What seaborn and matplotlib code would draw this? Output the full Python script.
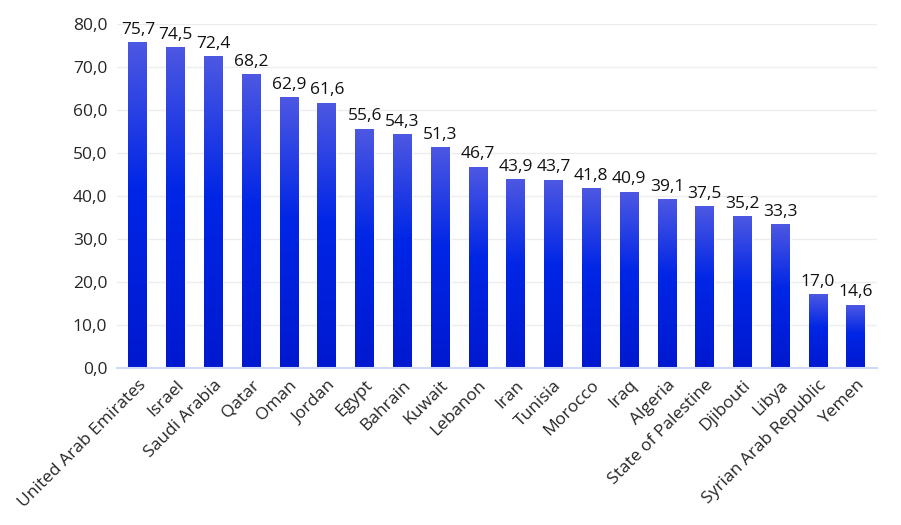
import matplotlib
matplotlib.use("Agg")
import matplotlib.pyplot as plt
import numpy as np
import pandas as pd
import seaborn as sns
from matplotlib.colors import LinearSegmentedColormap

#------Data------

countries = ["United Arab Emirates", "Israel", "Saudi Arabia", "Qatar", "Oman", "Jordan",
             "Egypt", "Bahrain", "Kuwait", "Lebanon", "Iran", "Tunisia", "Morocco", "Iraq",
             "Algeria", "State of Palestine", "Djibouti", "Libya", "Syrian Arab Republic", "Yemen"]
values = [75.7, 74.5, 72.4, 68.2, 62.9, 61.6, 55.6, 54.3, 51.3, 46.7,
          43.9, 43.7, 41.8, 40.9, 39.1, 37.5, 35.2, 33.3, 17.0, 14.6]

df = pd.DataFrame({"country": countries, "value": values})

#------Plot------

sns.set_style("white")
plt.rcParams["font.family"] = ["Open Sans", "DejaVu Sans"]

fig, ax = plt.subplots(figsize=(9.01, 5.25), dpi=100)
fig.subplots_adjust(left=0.13, right=0.973, top=0.955, bottom=0.30)

sns.barplot(data=df, x="country", y="value", color="#0026E6", width=0.5, ax=ax)

# per-bar vertical gradient, lighter at the top
grad_cmap = LinearSegmentedColormap.from_list(
    "bars", [(0.0, "#0019CF"), (0.55, "#0026E6"), (1.0, "#4D58E2")])
grad = np.linspace(0, 1, 256).reshape(-1, 1)
for patch in ax.patches:
    x0, y0 = patch.get_x(), patch.get_y()
    w, h = patch.get_width(), patch.get_height()
    im = ax.imshow(grad, cmap=grad_cmap, origin="lower", aspect="auto",
                   extent=(x0, x0 + w, y0, y0 + h), zorder=patch.get_zorder())
    im.set_clip_path(patch)
    patch.set_facecolor("none")

for i, v in enumerate(values):
    ax.text(i, v + 1.0, f"{v:.1f}".replace(".", ","), ha="center", va="bottom",
            fontsize=12.5, color="#111111")

ax.set_xlim(-0.55, len(values) - 0.45)
ax.set_ylim(0, 80)
ax.set_yticks(np.arange(0, 81, 10))
ax.set_yticklabels([f"{t:.1f}".replace(".", ",") for t in np.arange(0, 81, 10)], fontsize=12.5)
ax.yaxis.grid(True, color="#EDEDED", linewidth=1.0)
ax.set_axisbelow(True)

ax.set_xticks(range(len(countries)))
ax.set_xticklabels(countries, rotation=45, ha="right", rotation_mode="anchor", fontsize=12.5)
ax.tick_params(axis="both", length=0, pad=7)
ax.set_xlabel("")
ax.set_ylabel("")

for s in ["top", "right", "left"]:
    ax.spines[s].set_visible(False)
ax.spines["bottom"].set_color("#D0DAF8")
ax.spines["bottom"].set_linewidth(1.5)

plt.savefig("out.png", dpi=100)
plt.close()
